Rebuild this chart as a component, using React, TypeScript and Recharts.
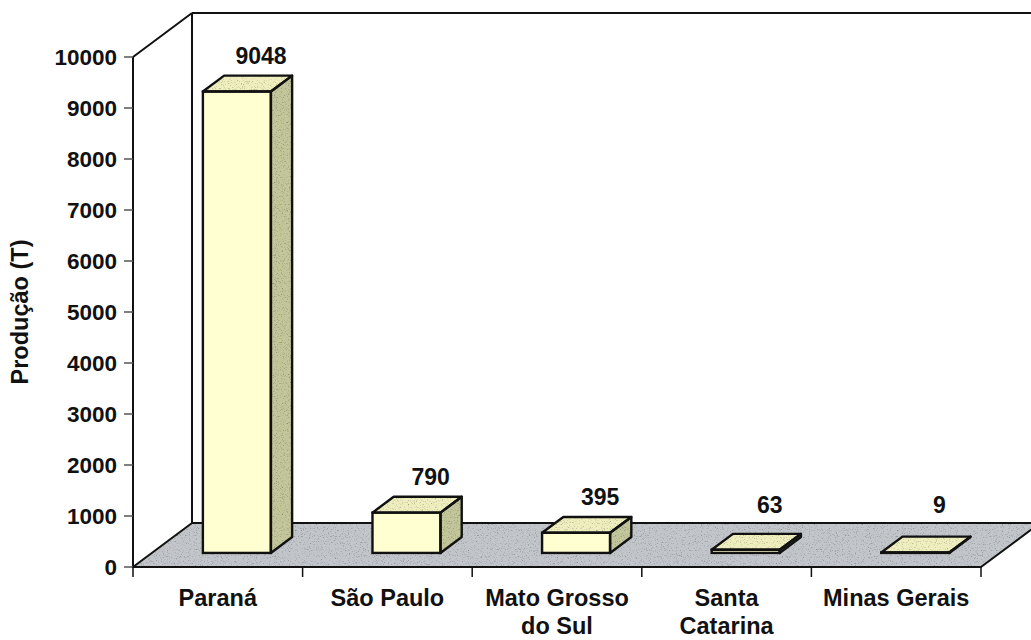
import React from 'react';
import { BarChart, Bar, XAxis, YAxis, ReferenceArea } from 'recharts';

// Production by state (tonnes)
const states = ['Paraná', 'São Paulo', 'Mato Grosso\ndo Sul', 'Santa\nCatarina', 'Minas Gerais'];
const production = [9048, 790, 395, 63, 9];
const yTicks = [0, 1000, 2000, 3000, 4000, 5000, 6000, 7000, 8000, 9000, 10000];
const yTitle = 'Produção (T)';

const data = states.map((state, i) => ({ state, production: production[i] }));

// Layout
const CHART_W = 1031;
const CHART_H = 640;
const MARGIN = { top: 57, right: 50, bottom: 0, left: 0 };
const Y_AXIS_W = 133;
const X_AXIS_H = 73;
const PLOT_W = CHART_W - MARGIN.left - MARGIN.right - Y_AXIS_W;
const BAND_HALF = PLOT_W / states.length / 2;

// Oblique depth of the floor and back wall
const DEPTH = { dx: 59, dy: 44 };
// Bars stand between these fractions of the floor depth
const BAR_NEAR = 0.32;
const BAR_FAR = 0.68;

const FONT = '"Liberation Sans", Arial, Helvetica, sans-serif';
const INK = '#111';

const COLORS = {
  floor: '#c2c5ca',
  front: '#ffffd2',
  top: '#eeeebe',
  side: '#c2c69a',
};

function Speckle() {
  return (
    <defs>
      <filter id="speckle" x="0" y="0" width="100%" height="100%" colorInterpolationFilters="sRGB">
        <feTurbulence type="fractalNoise" baseFrequency="0.85" numOctaves="2" seed="7" result="noise" />
        <feColorMatrix
          in="noise"
          type="matrix"
          values="0.9 0 0 0 0.6  0.9 0 0 0 0.6  0.9 0 0 0 0.6  0 0 0 0 1"
          result="grain"
        />
        <feBlend in="SourceGraphic" in2="grain" mode="multiply" result="mixed" />
        <feComposite in="mixed" in2="SourceGraphic" operator="in" />
      </filter>
    </defs>
  );
}

// Back wall outline and the grey floor of the 3D plot
function WallAndFloor(props: any) {
  const { x, y, width, height } = props;
  const { dx, dy } = DEPTH;
  const left = x;
  const right = x + width;
  const top = y;
  const bottom = y + height;
  const floor = [
    [left, bottom],
    [right, bottom],
    [right + dx, bottom - dy],
    [left + dx, bottom - dy],
  ]
    .map((p) => p.join(','))
    .join(' ');
  return (
    <g>
      <Speckle />
      <polygon points={floor} fill={COLORS.floor} filter="url(#speckle)" />
      <polygon points={floor} fill="none" stroke={INK} strokeWidth={2} strokeLinejoin="round" />
      {/* back wall */}
      <line x1={left} y1={top} x2={left + dx} y2={top - dy} stroke={INK} strokeWidth={2} />
      <line x1={left + dx} y1={top - dy} x2={right + dx} y2={top - dy} stroke={INK} strokeWidth={2} />
      <line x1={left + dx} y1={top - dy} x2={left + dx} y2={bottom - dy} stroke={INK} strokeWidth={2} />
      <line x1={right + dx} y1={top - dy} x2={right + dx} y2={bottom - dy} stroke={INK} strokeWidth={2} />
    </g>
  );
}

// A bar drawn as a 3D box, with its value above it
function Box3D(props: any) {
  const { x, y, width, height, payload } = props;
  if (x == null || y == null) return null;
  const { dx, dy } = DEPTH;
  const ox = dx * BAR_NEAR;
  const oy = dy * BAR_NEAR;
  const bx = dx * (BAR_FAR - BAR_NEAR);
  const by = dy * (BAR_FAR - BAR_NEAR);
  const L = x + ox;
  const R = L + width;
  const T = y - oy;
  const B = y + height - oy;
  const floorBack = y + height - dy;
  const topFace = `${L},${T} ${L + bx},${T - by} ${R + bx},${T - by} ${R},${T}`;
  const sideFace = `${R},${T} ${R + bx},${T - by} ${R + bx},${B - by} ${R},${B}`;
  const value = payload && payload.production != null ? payload.production : props.value;
  // label sits above the box, never lower than just above the floor's back edge
  const labelCenter = Math.min(T - by - 20, floorBack - 18);
  return (
    <g>
      <polygon points={topFace} fill={COLORS.top} filter="url(#speckle)" />
      <polygon points={sideFace} fill={COLORS.side} filter="url(#speckle)" />
      <rect x={L} y={T} width={width} height={Math.max(0, B - T)} fill={COLORS.front} />
      <polygon points={topFace} fill="none" stroke={INK} strokeWidth={2.4} strokeLinejoin="round" />
      <polygon points={sideFace} fill="none" stroke={INK} strokeWidth={2.4} strokeLinejoin="round" />
      <rect x={L} y={T} width={width} height={Math.max(0, B - T)} fill="none" stroke={INK} strokeWidth={2.4} />
      <text
        x={x + width / 2 + 43}
        y={labelCenter + 8}
        textAnchor="middle"
        fontFamily={FONT}
        fontWeight="bold"
        fontSize={23}
        fill={INK}
      >
        {value}
      </text>
    </g>
  );
}

// Category labels, with tick marks on the category boundaries
function StateTick(props: any) {
  const { x, y, payload, index } = props;
  const lines = String(payload.value).split('\n');
  const last = index === states.length - 1;
  return (
    <g>
      <line x1={x - BAND_HALF} y1={y} x2={x - BAND_HALF} y2={y + 10} stroke={INK} strokeWidth={1.5} />
      {last && <line x1={x + BAND_HALF} y1={y} x2={x + BAND_HALF} y2={y + 10} stroke={INK} strokeWidth={1.5} />}
      <text textAnchor="middle" fontFamily={FONT} fontWeight="bold" fontSize={23.5} fill={INK}>
        {lines.map((line, i) => (
          <tspan key={i} x={x} y={y + 39 + i * 28}>
            {line}
          </tspan>
        ))}
      </text>
    </g>
  );
}

function YTitle(props: any) {
  const vb = props.viewBox || {};
  const cx = (vb.x ?? 0) + 20;
  const cy = (vb.y ?? MARGIN.top) + (vb.height ?? 510) / 2;
  return (
    <text
      x={cx}
      y={cy}
      transform={`rotate(-90, ${cx}, ${cy})`}
      textAnchor="middle"
      dominantBaseline="central"
      fontFamily={FONT}
      fontWeight="bold"
      fontSize={23.5}
      fill={INK}
    >
      {yTitle}
    </text>
  );
}

export default function App() {
  return (
    <div style={{ position: 'absolute', left: 0, top: 0, width: CHART_W, height: CHART_H, background: '#fff' }}>
      <BarChart width={CHART_W} height={CHART_H} data={data} margin={MARGIN}>
        <ReferenceArea y1={0} y2={10000} ifOverflow="visible" shape={WallAndFloor} />
        <XAxis
          dataKey="state"
          height={X_AXIS_H}
          interval={0}
          tickLine={false}
          tickSize={0}
          tickMargin={0}
          axisLine={{ stroke: INK, strokeWidth: 2 }}
          tick={<StateTick />}
        />
        <YAxis
          width={Y_AXIS_W}
          domain={[0, 10000]}
          ticks={yTicks}
          interval={0}
          tickSize={9}
          tickMargin={7}
          axisLine={{ stroke: INK, strokeWidth: 2 }}
          tickLine={{ stroke: '#555', strokeWidth: 1.5 }}
          tick={{ fill: INK, fontFamily: FONT, fontWeight: 'bold', fontSize: 22.5 }}
          label={{ content: <YTitle /> }}
        />
        <Bar dataKey="production" barSize={68} isAnimationActive={false} shape={<Box3D />} />
      </BarChart>
    </div>
  );
}
